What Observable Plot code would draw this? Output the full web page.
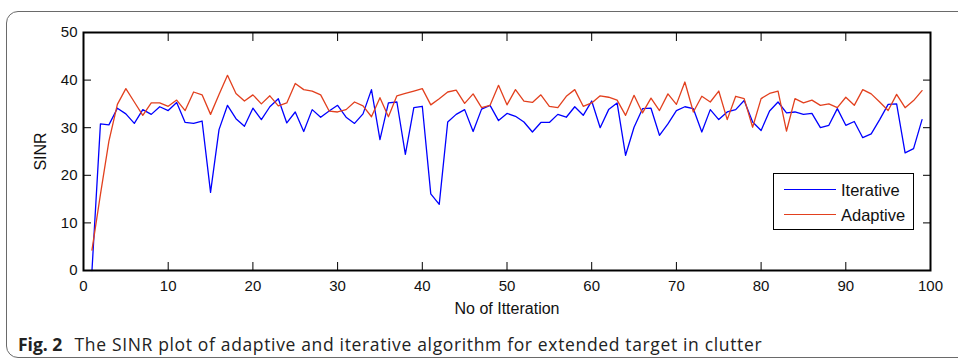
<!DOCTYPE html>
<html>
<head>
<meta charset="utf-8">
<script src="https://cdn.jsdelivr.net/npm/d3@7"></script>
<script src="https://cdn.jsdelivr.net/npm/@observablehq/plot@0.6"></script>
<style>
  html, body { margin: 0; padding: 0; background: #fff; overflow: hidden; }
  #wrap { position: relative; width: 958px; height: 358px; overflow: hidden; }
  #frame { position: absolute; left: 6px; top: 11px; width: 1000px; height: 347px;
           border: 1.5px solid #6a6a6a; border-radius: 12px; box-sizing: border-box; }
  #chart { position: absolute; left: 0; top: 0; }
  #legend { position: absolute; left: 773px; top: 173px; width: 141px; height: 57px;
            border: 1.5px solid #000; box-sizing: border-box; background: #fff;
            font-family: "Liberation Sans", Arial, sans-serif; font-size: 16.5px; color: #111; }
  .lg { position: absolute; left: 0; height: 20px; width: 140px; }
  .lg .sw { position: absolute; left: 10px; width: 52px; top: 9px; height: 0; border-top: 1.3px solid; }
  .lg .tx { position: absolute; left: 67px; top: 0; line-height: 20px; }
  #caption { position: absolute; left: 18px; top: 333px; font-family: "Open Sans", "Noto Sans", sans-serif;
             font-size: 17.5px; letter-spacing: 0.65px; line-height: 22px; color: #222; white-space: nowrap; }
  #caption b { font-weight: 700; margin-right: 7px; letter-spacing: 0; }
</style>
</head>
<body>
<div id="wrap">
  <div id="frame"></div>
  <div id="chart"></div>
  <div id="legend"></div>
  <div id="caption"><b>Fig. 2</b> The SINR plot of adaptive and iterative algorithm for extended target in clutter</div>
</div>
<script>
const iterations = d3.range(1, 100);
const iterative = [
  0, 30.8, 30.6, 34.1, 32.9, 30.9, 33.8, 32.8, 34.4, 33.6,
  35.3, 31.1, 30.9, 31.4, 16.4, 29.6, 34.7, 31.9, 30.3, 34.1,
  31.7, 34.4, 36.1, 31.0, 33.3, 29.2, 33.8, 32.2, 33.5, 34.7,
  32.2, 30.9, 32.9, 38.0, 27.5, 35.2, 35.4, 24.4, 34.2, 34.5,
  16.1, 13.9, 31.2, 32.8, 33.8, 29.2, 33.9, 34.7, 31.5, 33.0,
  32.4, 31.2, 29.1, 31.1, 31.1, 32.8, 32.2, 34.4, 32.6, 35.6,
  30.0, 33.8, 35.2, 24.2, 30.1, 34.0, 34.1, 28.4, 30.8, 33.6,
  34.4, 34.0, 29.1, 33.8, 31.7, 33.3, 33.8, 35.7, 31.2, 29.4,
  33.5, 35.4, 33.1, 33.3, 32.8, 33.0, 30.0, 30.5, 34.0, 30.5,
  31.3, 27.9, 28.7, 31.7, 34.9, 35.0, 24.7, 25.6, 31.7
];
const adaptive = [
  4.3, 16.0, 27.2, 34.9, 38.2, 35.4, 32.6, 35.2, 35.2, 34.5,
  35.8, 33.6, 37.5, 36.9, 32.8, 37.0, 41.0, 37.2, 35.6, 36.9,
  35.0, 36.7, 34.6, 35.2, 39.3, 38.0, 37.7, 36.9, 33.5, 33.3,
  33.8, 35.4, 34.6, 32.3, 36.3, 32.3, 36.7, 37.2, 37.7, 38.2,
  34.8, 36.1, 37.5, 37.9, 35.1, 37.1, 34.2, 34.7, 38.9, 34.8,
  38.0, 35.6, 35.3, 36.9, 34.5, 34.2, 36.6, 38.0, 34.5, 35.2,
  36.7, 36.4, 35.8, 32.6, 36.8, 33.1, 36.2, 33.6, 37.1, 34.9,
  39.6, 33.3, 36.6, 35.4, 37.7, 31.7, 36.6, 36.1, 30.1, 36.1,
  37.2, 37.7, 29.3, 36.1, 35.2, 35.8, 34.7, 35.0, 34.2, 36.4,
  34.7, 38.0, 37.1, 35.4, 33.6, 37.0, 34.2, 35.7, 37.8
];
const seriesNames = ["Iterative", "Adaptive"];
const seriesColors = ["#0000ff", "#e2401e"];
const xTicks = [0, 10, 20, 30, 40, 50, 60, 70, 80, 90, 100];
const yTicks = [0, 10, 20, 30, 40, 50];
const xLabel = "No of Itteration";
const yLabel = "SINR";

const rows = [];
iterations.forEach((it, i) => {
  rows.push({x: it, y: iterative[i], s: seriesNames[0]});
  rows.push({x: it, y: adaptive[i], s: seriesNames[1]});
});

const plot = Plot.plot({
  width: 958,
  height: 320,
  marginLeft: 83,
  marginRight: 28,
  marginTop: 32,
  marginBottom: 50,
  style: {fontFamily: "'Liberation Sans', Arial, sans-serif", fontSize: "15px", color: "#111", background: "transparent"},
  x: {domain: [0, 100], ticks: xTicks},
  y: {domain: [0, 50], ticks: yTicks},
  color: {domain: seriesNames, range: seriesColors},
  marks: [
    Plot.line(rows, {x: "x", y: "y", z: "s", stroke: "s", strokeWidth: 1.3}),
    Plot.frame({stroke: "#000", strokeWidth: 2}),
    Plot.axisX({anchor: "bottom", ticks: xTicks, tickSize: -8, tickPadding: 18, stroke: "#000",
                label: xLabel, labelAnchor: "center", labelArrow: false, labelOffset: 43, fontSize: 15}),
    Plot.axisX({anchor: "top", ticks: xTicks, tickSize: -8, tickFormat: () => "", label: null, stroke: "#000"}),
    Plot.axisY({anchor: "left", ticks: yTicks, tickSize: -8, tickPadding: 14, stroke: "#000",
                label: yLabel, labelAnchor: "center", labelArrow: false, labelOffset: 49}),
    Plot.axisY({anchor: "right", ticks: yTicks, tickSize: -8, tickFormat: () => "", label: null, stroke: "#000"})
  ]
});
document.getElementById("chart").appendChild(plot);

plot.querySelectorAll("[aria-label='x-axis label'] text, [aria-label='y-axis label'] text").forEach(t => {
  t.setAttribute("font-size", "16");
});

const legend = document.getElementById("legend");
seriesNames.forEach((name, i) => {
  const row = document.createElement("div");
  row.className = "lg";
  row.style.top = (i === 0 ? 6 : 31) + "px";
  row.innerHTML = `<div class="sw" style="border-color:${seriesColors[i]}"></div><div class="tx">${name}</div>`;
  legend.appendChild(row);
});
</script>
</body>
</html>
